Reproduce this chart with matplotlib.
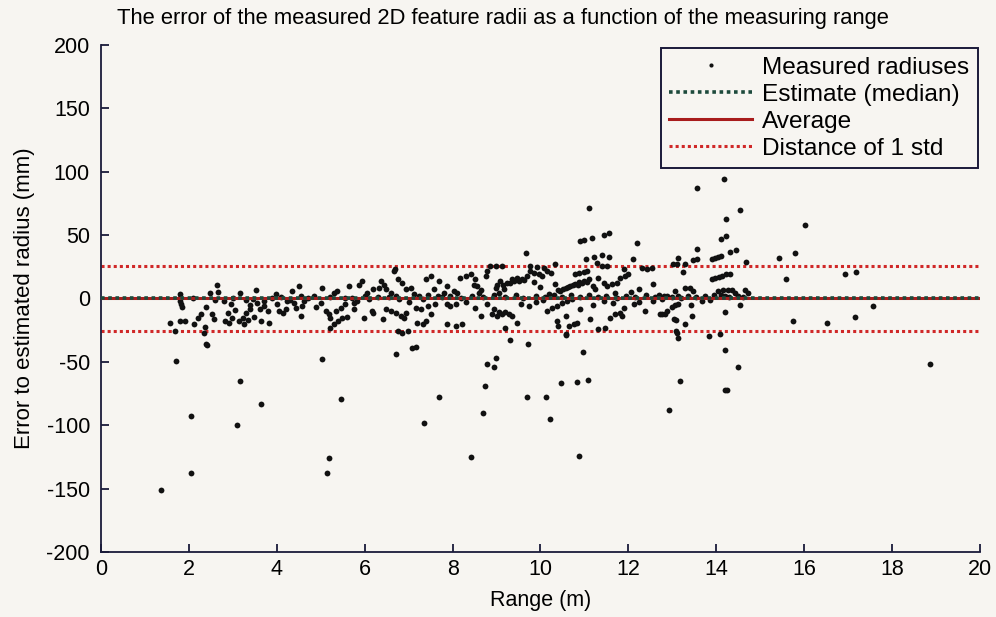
import matplotlib
matplotlib.use('Agg')
import matplotlib.pyplot as plt

plt.rcParams['font.family'] = ['Liberation Sans', 'DejaVu Sans']
plt.rcParams['font.size'] = 15.5
plt.rcParams['axes.unicode_minus'] = False

# measured radius error vs. range
# left / low outliers
x_out = [1.36, 1.71, 2.42, 2.05, 2.04, 3.17, 3.10, 3.64, 5.04, 5.47, 5.19, 5.14,
         6.71, 7.08, 7.16, 7.69, 7.35, 8.41, 8.70, 8.73, 8.79, 8.94, 8.98, 9.30,
         9.72, 9.70, 10.13, 10.21, 10.47, 10.82, 11.08, 10.97, 10.59, 10.88, 12.93,
         13.18, 13.14, 13.83, 14.08, 14.20, 14.49, 14.20, 14.24, 18.87]
y_out = [-151, -49, -37, -93, -138, -65, -100, -83, -48, -79, -126, -138,
         -44, -39, -38, -78, -98, -125, -90, -69, -52, -54, -47, -33,
         -36, -78, -78, -95, -67, -66, -64, -42, -29, -124, -88,
         -65, -31, -30, -28, -41, -54, -72, -72, -52]

# range 1.5 - 6.4 m
x_near = [1.56, 1.69, 1.80, 1.80, 1.80, 1.82, 1.80, 1.91, 2.11, 2.20, 2.27, 2.37,
          2.34, 2.39, 2.40, 2.47, 2.52, 2.58, 2.64, 2.67, 2.81, 2.82, 2.88, 2.92,
          2.97, 3.05, 3.17, 3.15, 3.23, 3.26, 3.34, 3.31, 3.38, 3.45, 3.49, 3.53,
          3.56, 3.64, 3.62, 3.71, 3.79, 3.83, 3.98, 4.05, 4.13, 4.20, 4.24, 4.35,
          4.39, 4.43, 4.50, 4.54, 4.54, 4.62, 4.58, 4.85, 5.00, 5.03, 5.11, 5.19,
          5.22, 5.30, 5.34, 5.45, 5.22, 5.30, 5.39, 5.49, 5.60, 5.37, 5.56, 5.64,
          5.75, 5.87, 5.94, 5.75, 5.83, 5.98, 6.17, 6.20, 6.05, 6.20, 6.32,
          2.10, 2.60, 3.00, 3.30, 3.90, 4.10, 4.70, 5.20, 5.70, 6.10, 6.30,
          1.84, 2.95, 3.40, 3.70, 4.00, 4.30, 4.90, 5.55, 6.00]
y_near = [-19.6, -25.3, 3.2, 0.6, -2.0, -4.7, -17.8, -17.8, -20.4, -15.7, -12.0, -22.5,
          -27.0, -36.0, -6.8, 4.0, -12.0, -16.5, 11.0, 5.0, -2.0, -17.8, -11.3, -19.0,
          -15.2, -9.2, 4.2, -17.8, -15.7, -19.9, -17.3, -11.3, -5.2, -0.7, -14.4, 6.6,
          -3.4, -17.8, -8.6, -2.0, -9.9, -19.0, 3.2, -9.9, -11.3, -8.6, -2.0, 5.8,
          -3.4, -7.3, 9.7, 1.9, -13.7, -2.0, -6.0, 1.9, -3.4, 8.4, -9.9, -12.5,
          -15.2, 4.5, -9.9, -7.3, -23.0, -20.4, -17.8, -15.7, -14.7, 5.8, 0.6, 9.7,
          -3.4, 11.0, 13.7, -8.6, -2.0, -15.2, -9.9, -11.3, 4.5, 7.1, 8.4,
          0.0, -1.0, 0.5, -1.0, 0.0, 1.0, 0.0, 1.0, 0.0, -0.5, 1.0,
          -7.0, -4.0, -8.0, -6.0, -4.5, -1.5, -6.5, -4.0, 2.0]

# range 6.4 - 7.7 m
x_mid1 = [6.37, 6.44, 6.48, 6.67, 6.60, 6.71, 6.79, 6.48, 6.60, 6.71, 6.82, 6.90,
          6.94, 6.41, 6.75, 6.86, 6.98, 6.75, 6.86, 6.94, 7.05, 7.13, 7.24, 7.32,
          7.20, 7.32, 7.39, 7.16, 7.28, 7.43, 7.51, 7.39, 7.52, 7.58, 7.66, 7.69, 6.70,
          6.55, 7.00, 7.45, 7.60]
y_mid1 = [13.7, 11.0, 7.1, 22.0, 4.5, 1.9, -0.7, -8.6, -9.9, -11.3, -13.9, -15.2,
          -11.3, -16.5, -25.6, -27.0, -25.6, 15.0, 12.4, 7.1, 8.4, 3.2, 1.9, -0.7,
          -19.0, -20.4, -17.8, -7.3, -8.6, -6.0, -12.5, 15.0, 17.6, 7.1, 1.9, 13.7, 23.0,
          1.0, -3.0, 2.5, -4.0]

# range 7.7 - 13 m, above the zero line
x_mid2 = [11.11, 10.91, 11.00, 11.17, 11.44, 11.55, 12.19, 9.68, 11.03, 11.22, 11.41,
          11.56, 12.10, 11.28, 11.40, 11.51, 12.31, 12.42, 12.53, 11.89, 8.86, 8.98,
          9.13, 10.34, 9.77, 9.92, 10.07, 10.15, 10.23, 10.04, 8.18, 8.30, 8.41, 8.52,
          8.48, 8.56, 8.79, 8.75, 7.88, 7.80, 8.03, 8.11, 9.09, 9.24, 9.35, 9.47, 9.58,
          9.70, 8.98, 9.05, 9.17, 9.77, 9.85, 9.96, 10.00, 10.34, 10.45, 10.57, 10.68,
          10.79, 10.87, 10.98, 11.10, 10.79, 10.87, 10.98, 11.06, 11.19, 11.25, 11.32,
          11.44, 11.51, 11.62, 11.74, 11.81, 11.93, 12.00, 12.25, 12.57,
          7.75, 7.95, 8.20, 8.45, 8.70, 8.95, 9.20, 9.45, 9.60, 9.90, 10.10, 10.30,
          10.50, 10.70, 10.90, 11.10, 11.30, 11.50, 11.75, 11.95, 12.15, 12.40, 12.60, 12.80,
          9.15, 9.30, 9.40, 9.52, 9.62, 10.40, 10.52, 10.63, 10.74, 10.85, 10.95, 11.05,
          8.60, 8.65, 9.00, 9.85, 10.20, 11.70, 12.05, 12.70]
y_mid2 = [71.0, 45.0, 46.0, 48.0, 50.0, 52.0, 44.0, 36.0, 31.0, 33.0, 34.0,
          33.0, 31.0, 28.0, 25.5, 26.0, 24.0, 23.0, 24.0, 23.0, 25.5, 25.5,
          26.0, 27.0, 25.5, 25.0, 24.0, 21.5, 20.0, 17.6, 16.0, 17.6, 19.0, 15.0,
          11.0, 10.0, 21.5, 17.6, 10.0, 4.5, 5.8, 4.5, 13.7, 12.4, 15.0, 16.3, 15.0,
          17.6, 8.4, 4.5, 7.1, 21.5, 20.0, 19.0, 9.2, 11.8, 5.8, 8.4, 10.2,
          11.8, 12.9, 13.7, 15.0, 19.0, 20.0, 20.7, 21.5, 9.7, 7.1, 16.3,
          12.4, 9.7, 11.1, 12.4, 16.3, 17.6, 19.0, 7.6, 11.8,
          1.0, 2.0, 0.5, 2.0, 1.0, 2.5, 1.0, 3.0, 0.5, 2.0, 1.5, 2.5,
          1.0, 3.0, 1.0, 2.5, 1.0, 2.0, 0.5, 2.0, 1.5, 2.5, 1.0, 2.0,
          11.0, 12.0, 13.5, 14.0, 14.5, 7.0, 7.5, 9.0, 10.5, 11.0, 12.0, 13.0,
          4.0, 6.5, 11.0, 13.0, 3.5, 4.0, 5.5, 3.0]

# range 7.7 - 13 m, below the zero line
x_mid3 = [7.95, 8.07, 7.88, 8.64, 8.79, 8.94, 8.90, 9.00, 9.05, 9.12, 9.20, 9.28,
          9.36, 9.20, 9.47, 8.07, 8.22, 7.88, 9.73, 10.15, 10.26, 10.38, 10.49, 10.60,
          10.72, 10.38, 10.41, 10.57, 10.64, 10.76, 10.83, 10.57, 10.91, 11.13, 11.32,
          11.47, 11.44, 11.66, 11.89, 12.12, 11.59, 11.70, 11.81, 11.85, 12.38, 12.72,
          12.83, 12.57, 12.76, 13.03, 13.10,
          8.30, 8.50, 9.55, 9.90, 10.05, 11.20, 12.25]
y_mid3 = [-6.0, -4.7, -4.7, -13.8, -4.7, -8.6, -12.0, -13.5, -11.0, -12.5, -10.5, -12.0,
          -14.0, -23.0, -19.0, -21.7, -20.4, -20.4, -6.0, -9.9, -7.3, -6.0, -3.4, -2.0,
          -0.7, -17.8, -21.7, -13.8, -21.7, -20.4, -19.0, -28.2, -8.6, -16.5, -24.3,
          -23.0, -2.0, -3.4, -7.3, -4.7, -15.2, -12.5, -11.2, -13.8, -9.9, -12.5,
          -12.5, -2.0, -0.7, -16.5, -27.0,
          -3.0, -7.5, -4.5, -2.5, -1.5, -5.0, -2.5]

# range 12.8 m and beyond
x_far = [13.57, 14.18, 14.21, 14.54, 14.11, 14.21, 16.01, 15.79, 15.42, 15.58, 16.92,
         17.17, 17.56, 15.75, 16.52, 17.16, 13.09, 14.55, 14.19, 13.28, 13.09, 13.44,
         13.42, 13.25, 13.14, 13.02, 13.10, 13.29, 13.46, 13.56, 13.57, 13.90, 13.97,
         14.03, 14.10, 14.31, 14.45, 14.67, 12.76, 12.88, 12.99, 13.06, 13.14,
         13.90, 13.98, 14.06, 14.14, 14.22, 14.31,
         12.87, 13.06, 13.14, 13.29, 13.40, 13.48, 13.67, 13.86, 14.05, 14.16, 14.27,
         14.35, 14.42, 14.65, 14.73, 13.00, 13.20, 13.35, 13.55, 13.75, 13.95, 14.10,
         14.20, 14.30, 14.50, 14.60]
y_far = [87.0, 94.0, 63.0, 70.0, 47.0, 49.0, 58.0, 36.0, 32.0, 15.0, 19.0,
         21.0, -6.0, -18.0, -19.0, -15.0, -26.0, -5.0, -11.0, -20.0, -17.0, -14.0,
         -5.5, 21.0, 32.0, 27.0, 27.0, 27.0, 30.0, 31.0, 39.0, 31.5, 32.0,
         33.0, 33.4, 36.5, 38.0, 28.6, -12.0, -10.0, -7.0, -5.5, -4.6,
         15.0, 16.0, 17.0, 18.0, 19.0, 19.5,
         1.9, 5.8, 2.0, 8.4, 8.4, 5.8, -2.0, -1.0, 5.8, 7.0, 7.0,
         7.0, 4.0, 7.0, 4.0, 1.0, 0.0, 2.0, 1.0, 2.0, 2.5, 3.0,
         2.0, 1.5, 2.0, 1.5]

x_meas = x_out + x_near + x_mid1 + x_mid2 + x_mid3 + x_far
y_meas = y_out + y_near + y_mid1 + y_mid2 + y_mid3 + y_far

line_x = [0, 20]
median_est = [0.4, 0.4]
average = [0.0, 0.0]
std_upper = [26.0, 26.0]
std_lower = [-26.0, -26.0]

bg = '#f7f5f1'
fig = plt.figure(figsize=(9.96, 6.17), dpi=100, facecolor=bg)
ax = fig.add_axes([0.1014, 0.1054, 0.8825, 0.8217], facecolor=bg)

ax.plot(x_meas, y_meas, 'o', color='#111111', ms=4.2, mec='none',
        label='Measured radiuses', zorder=3)
ax.plot(line_x, average, '-', color='#a81c1c', lw=2.2, zorder=4, label='_avg')
ax.plot(line_x, median_est, linestyle=(0, (1, 1)), color='#1d4a3c', lw=2.6,
        zorder=5, label='_est')
ax.plot(line_x, std_upper, linestyle=(0, (1, 1)), color='#d02828', lw=2.2, zorder=2)
ax.plot(line_x, std_lower, linestyle=(0, (1, 1)), color='#d02828', lw=2.2, zorder=2)

# legend proxies (same styles as above)
h1, = ax.plot([], [], 'o', color='#111111', ms=3, mec='none')
h2, = ax.plot([], [], linestyle=(0, (1, 1)), color='#1d4a3c', lw=2.6)
h3, = ax.plot([], [], '-', color='#a81c1c', lw=2.2)
h4, = ax.plot([], [], linestyle=(0, (1, 1)), color='#d02828', lw=2.2)
leg = ax.legend([h1, h2, h3, h4],
                ['Measured radiuses', 'Estimate (median)', 'Average', 'Distance of 1 std'],
                loc='upper right', bbox_to_anchor=(0.9977, 0.994), borderaxespad=0,
                fancybox=False, handlelength=3.4, handletextpad=0.4, borderpad=0.35,
                labelspacing=0.2, framealpha=1, fontsize=17.6)
leg.get_frame().set_edgecolor('#1a1a3a')
leg.get_frame().set_linewidth(1.4)
leg.get_frame().set_facecolor(bg)

ax.set_xlim(0, 20)
ax.set_ylim(-200, 200)
ax.set_xticks(range(0, 21, 2))
ax.set_yticks(range(-200, 201, 50))
ax.spines['top'].set_visible(False)
ax.spines['right'].set_visible(False)
for s in ('left', 'bottom'):
    ax.spines[s].set_color('#1a1a3a')
    ax.spines[s].set_linewidth(1.3)
ax.tick_params(direction='in', length=6, width=1.3, color='#1a1a3a', labelsize=15.5)
ax.tick_params(axis='y', pad=8)
ax.tick_params(axis='x', pad=5)

fig.text(0.505, 0.97, 'The error of the measured 2D feature radii as a function of the measuring range',
         ha='center', va='center', fontsize=15.8)
ax.set_xlabel('Range (m)', fontsize=15.5, labelpad=7)
ax.set_ylabel('Error to estimated radius (mm)', fontsize=16, labelpad=8)

fig.savefig('out.png', dpi=100, facecolor=bg)
